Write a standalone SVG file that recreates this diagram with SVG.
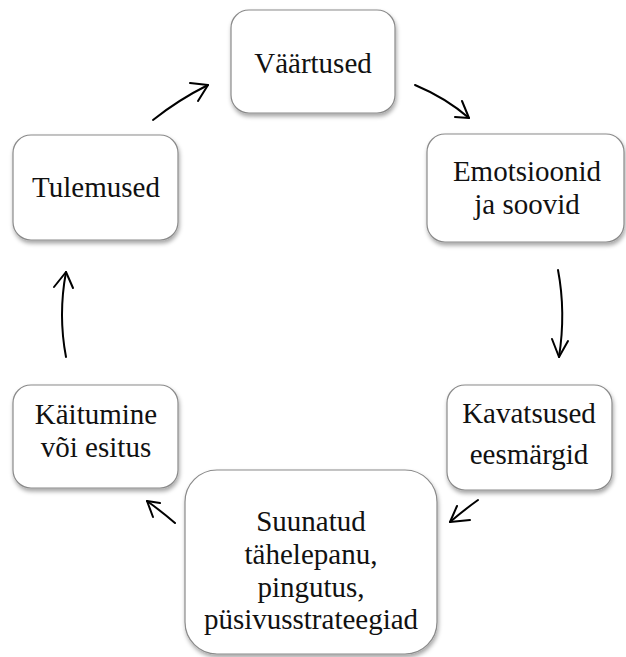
<svg xmlns="http://www.w3.org/2000/svg" width="626" height="657" viewBox="0 0 626 657">
  <defs>
    <filter id="shadow" x="-10%" y="-10%" width="125%" height="130%">
      <feDropShadow dx="1" dy="3" stdDeviation="2" flood-color="#000" flood-opacity="0.35"/>
    </filter>
  </defs>
  <style>
    .box { fill: #fff; stroke: #8a8a8a; stroke-width: 1.2; filter: url(#shadow); }
    .lbl { font-family: "Liberation Serif", "Times New Roman", serif; font-size: 29px; fill: #111; text-anchor: middle; }
    .arr { fill: none; stroke: #000; stroke-width: 2; stroke-linecap: round; stroke-linejoin: round; }
  </style>
  <rect width="626" height="657" fill="#fff"/>

  <g id="vaartused">
    <rect class="box" x="231" y="10" width="164" height="103" rx="18"/>
    <text class="lbl" x="313" y="73">Väärtused</text>
  </g>

  <g id="emotsioonid">
    <rect class="box" x="427" y="134" width="197" height="108" rx="18"/>
    <text class="lbl" x="527" y="181">Emotsioonid</text>
    <text class="lbl" x="527" y="214">ja soovid</text>
  </g>

  <g id="kavatsused">
    <rect class="box" x="447" y="385" width="165" height="105" rx="18"/>
    <text class="lbl" x="529" y="423">Kavatsused</text>
    <text class="lbl" x="529" y="464">eesmärgid</text>
  </g>

  <g id="suunatud">
    <rect class="box" x="185" y="470" width="252" height="184" rx="32"/>
    <text class="lbl" x="311" y="531">Suunatud</text>
    <text class="lbl" x="311" y="564">tähelepanu,</text>
    <text class="lbl" x="311" y="597">pingutus,</text>
    <text class="lbl" x="311" y="629">püsivusstrateegiad</text>
  </g>

  <g id="kaitumine">
    <rect class="box" x="13" y="385" width="165" height="103" rx="18"/>
    <text class="lbl" x="96" y="424">Käitumine</text>
    <text class="lbl" x="96" y="457">või esitus</text>
  </g>

  <g id="tulemused">
    <rect class="box" x="13" y="135" width="165" height="105" rx="18"/>
    <text class="lbl" x="96" y="197">Tulemused</text>
  </g>

  <g id="connectors">
    <!-- Tulemused to Väärtused -->
    <path class="arr" d="M153,120 Q178,100 208,85"/>
    <path class="arr" d="M190,83 L208,85 L198,101"/>
    <!-- Väärtused to Emotsioonid -->
    <path class="arr" d="M415,85 Q446,98 469,118"/>
    <path class="arr" d="M455,117 L469,118 L462,101"/>
    <!-- Emotsioonid to Kavatsused -->
    <path class="arr" d="M558,270 Q566,312 559,357"/>
    <path class="arr" d="M552,339 L559,357 L568,341"/>
    <!-- Kavatsused to Suunatud -->
    <path class="arr" d="M478,500 Q464,510 450,522"/>
    <path class="arr" d="M457,506 L450,522 L470,520"/>
    <!-- Suunatud to Käitumine -->
    <path class="arr" d="M175,523 Q161,511 147,501"/>
    <path class="arr" d="M160,503 L147,501 L153,517"/>
    <!-- Käitumine to Tulemused -->
    <path class="arr" d="M66,357 Q58,315 66,272"/>
    <path class="arr" d="M54,287 L66,272 L73,288"/>
  </g>
</svg>
